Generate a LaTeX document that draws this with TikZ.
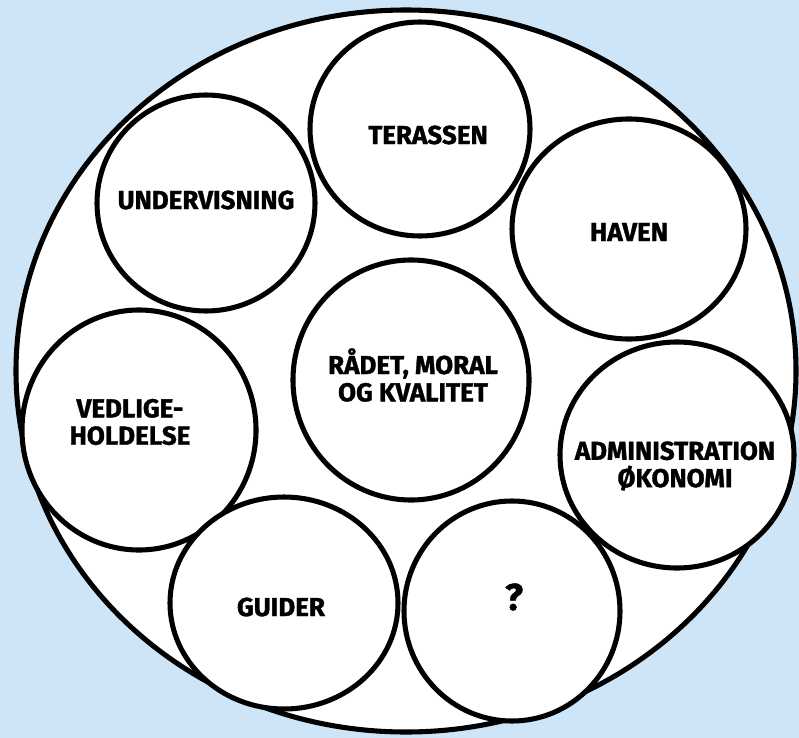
\documentclass[tikz,border=0pt]{standalone}
\usepackage{fontspec}
\setmainfont{Fira Sans}[BoldFeatures={FakeBold=1.3}]
\usetikzlibrary{shapes.geometric}
\usetikzlibrary{positioning}

\definecolor{skyblue}{HTML}{CDE5F7}

\tikzset{
	bubble/.style 2 args={ellipse, draw, fill=white, line width=3.8pt,
		inner sep=0pt, minimum width=#1*1.5pt, minimum height=#2*1.5pt},
	txt/.style={font=\bfseries\fontsize{19.5}{20.5}\selectfont, align=center,
		inner sep=0pt, text=black}
}

\begin{document}
\begin{tikzpicture}[x=0.75pt, y=-0.75pt]
		\useasboundingbox[fill=skyblue] (0,0) rectangle (799,738);
		
		% the outer ring
		\node at (406,371) (ring) [bubble={390}{361}] {};
		
		\node at (206,203) (und) [bubble={109}{108}] {};
		\node at (420,129) (ter) [bubble={110}{107}] {};
		\node at (629,229) (hav) [bubble={117}{110}] {};
		\node at (411,380) (raad) [bubble={118}{120}] {};
		\node at (139,430) (ved) [bubble={117}{120}] {};
		\node at (677,455) (adm) [bubble={117}{113}] {};
		\node at (284,603) (gui) [bubble={114}{106}] {};
		\node at (512,611) (ukendt) [bubble={108}{110}] {};
		
		% labels
		\node at (206,200) (und-t) [txt] {UNDERVISNING};
		\node at (428,135) (ter-t) [txt] {TERASSEN};
		\node at (629,232) (hav-t) [txt] {HAVEN};
		\node at (413,375) (raad-t) [txt] {RÅDET, MORAL\\OG KVALITET};
		\node at (130,422) (ved-t) [txt] {VEDLIGE-\\HOLDELSE};
		\node at (675,466) (adm-t) [txt] {ADMINISTRATION\\ØKONOMI};
		\node at (281,607) (gui-t) [txt] {GUIDER};
		\node at (514,597) (ukendt-t) [txt, font=\bfseries\fontsize{28}{30}\selectfont] {?};
	\end{tikzpicture}
\end{document}
